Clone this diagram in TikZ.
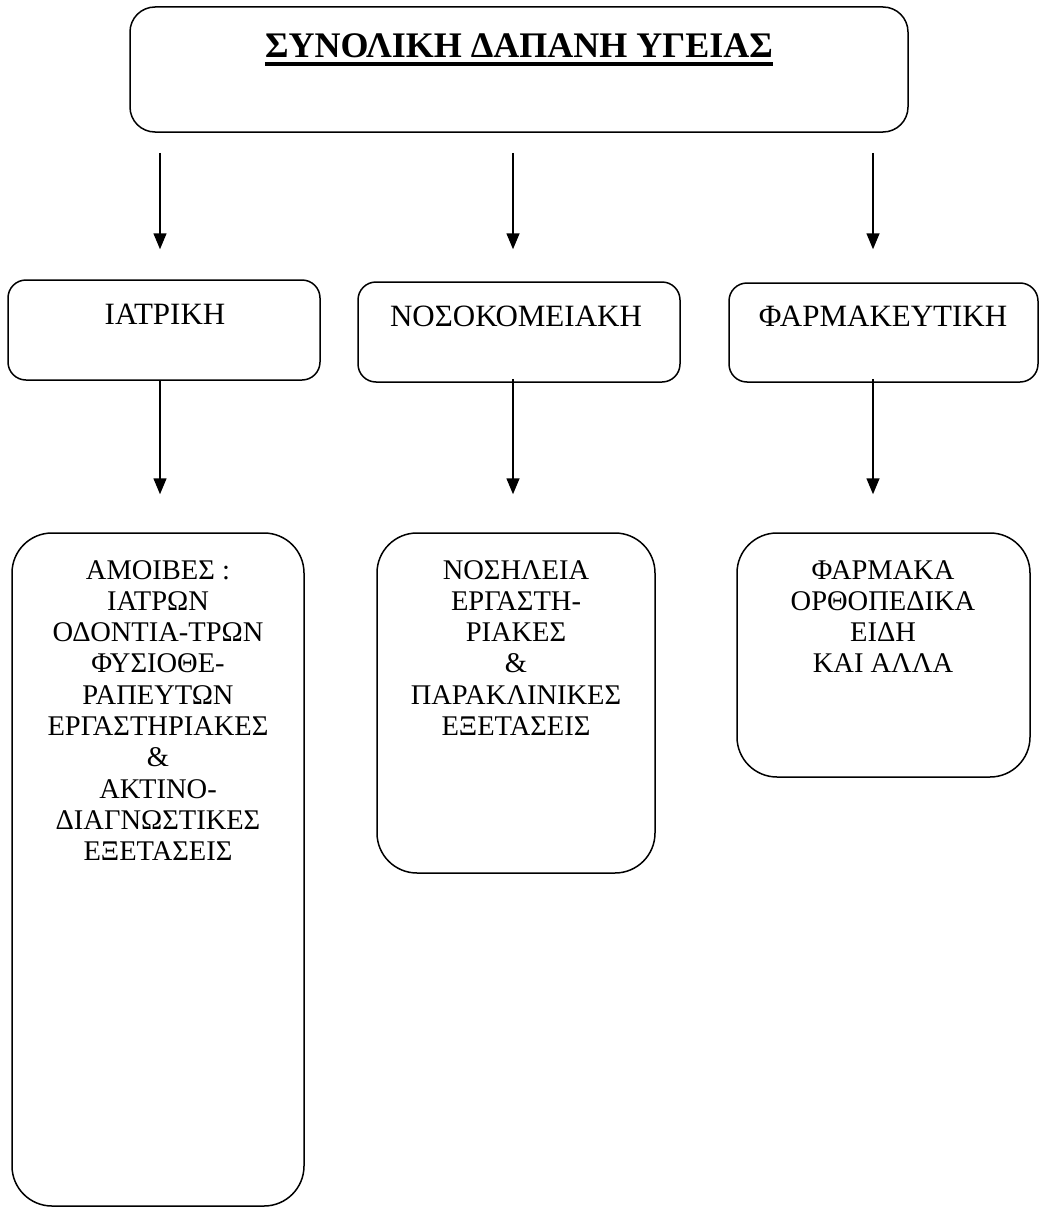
\documentclass[tikz,border=0pt]{standalone}
\usepackage{fontspec}
\setmainfont{Liberation Serif}
\usetikzlibrary{arrows.meta}
\begin{document}
\begin{tikzpicture}[x=1pt,y=-1pt,
  box/.style={draw,line width=1.5pt,inner sep=0},
  conn/.style={line width=1.5pt,-{Triangle[width=13pt,length=16pt]}},
  lbl/.style={inner sep=0,anchor=base,font=\fontsize{31}{34}\selectfont},
  body/.style={inner sep=0,align=center,anchor=north,font=\fontsize{28.5}{31.3}\selectfont}]
\useasboundingbox (0,0) rectangle (1040,1207);
% boxes
\node[box,rounded corners=25pt,minimum width=778pt,minimum height=125pt] (top) at (519,69.5) {};
\node[box,rounded corners=18pt,minimum width=312pt,minimum height=100pt] (iat) at (164,330) {};
\node[box,rounded corners=18pt,minimum width=322pt,minimum height=100pt] (nos) at (519,332) {};
\node[box,rounded corners=18pt,minimum width=309pt,minimum height=99pt] (far) at (883.5,332.5) {};
\node[box,rounded corners=40pt,minimum width=292pt,minimum height=673pt] (amo) at (158,869.5) {};
\node[box,rounded corners=40pt,minimum width=278pt,minimum height=340pt] (nsh) at (516,703) {};
\node[box,rounded corners=40pt,minimum width=293pt,minimum height=244pt] (frm) at (883.5,655) {};
% texts
\node[inner sep=0,anchor=base,font=\fontsize{36}{40}\selectfont\bfseries] (title) at (519,58) {ΣΥΝΟΛΙΚΗ ΔΑΠΑΝΗ ΥΓΕΙΑΣ};
\draw[line width=4pt] ([yshift=-6.5pt]title.base west) -- ([yshift=-6.5pt]title.base east);
\node[lbl] (t1) at (165,324) {ΙΑΤΡΙΚΗ};
\node[lbl] (t2) at (516,326) {ΝΟΣΟΚΟΜΕΙΑΚΗ};
\node[lbl] (t3) at (883,326) {ΦΑΡΜΑΚΕΥΤΙΚΗ};
\node[body] (b1) at (158,560) {ΑΜΟΙΒΕΣ :\\ ΙΑΤΡΩΝ\\ ΟΔΟΝΤΙΑ-ΤΡΩΝ\\ ΦΥΣΙΟΘΕ-\\ ΡΑΠΕΥΤΩΝ\\ ΕΡΓΑΣΤΗΡΙΑΚΕΣ\\ \&\\ ΑΚΤΙΝΟ-\\ ΔΙΑΓΝΩΣΤΙΚΕΣ\\ ΕΞΕΤΑΣΕΙΣ};
\node[body] (b2) at (516,560) {ΝΟΣΗΛΕΙΑ\\ ΕΡΓΑΣΤΗ-\\ ΡΙΑΚΕΣ\\ \&\\ ΠΑΡΑΚΛΙΝΙΚΕΣ\\ ΕΞΕΤΑΣΕΙΣ};
\node[body] (b3) at (883,560) {ΦΑΡΜΑΚΑ\\ ΟΡΘΟΠΕΔΙΚΑ\\ ΕΙΔΗ\\ ΚΑΙ ΑΛΛΑ};
% arrow columns
\coordinate (c1) at (160,0);
\coordinate (c2) at (513,0);
\coordinate (c3) at (873,0);
\draw[conn,shorten <=20pt,shorten >=30pt] (top.south -| c1) -- (iat.north -| c1);
\draw[conn,shorten <=20pt,shorten >=32pt] (top.south -| c2) -- (nos.north -| c2);
\draw[conn,shorten <=20pt,shorten >=33pt] (top.south -| c3) -- (far.north -| c3);
\draw[conn,shorten >=38pt] (iat.south -| c1) -- (amo.north -| c1);
\draw[conn,shorten <=-4pt,shorten >=38pt] (nos.south -| c2) -- (nsh.north -| c2);
\draw[conn,shorten <=-4pt,shorten >=38pt] (far.south -| c3) -- (frm.north -| c3);
\end{tikzpicture}
\end{document}
